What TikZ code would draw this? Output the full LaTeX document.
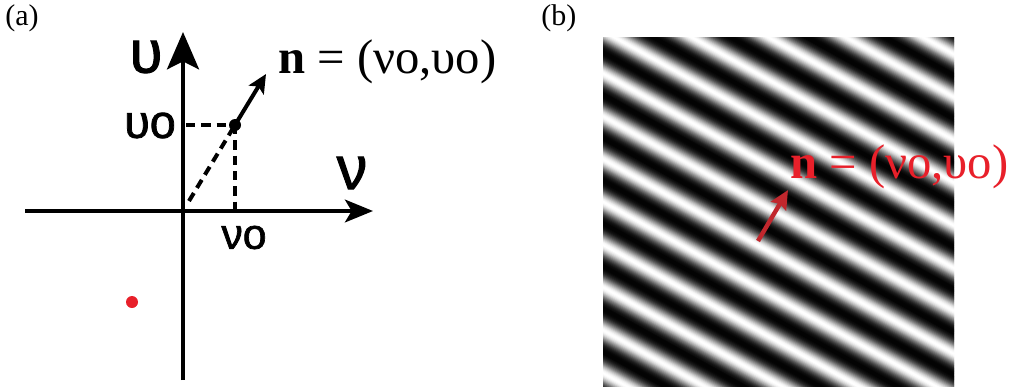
\documentclass[tikz,border=0pt]{standalone}
\usepackage{fontspec}
\setmainfont{Liberation Serif}
\newfontfamily\labfont[FakeBold=1.6]{Liberation Sans}
\usetikzlibrary{arrows.meta}
\definecolor{redtxt}{HTML}{E8202A}
\definecolor{redarrow}{HTML}{C1272D}
\tikzset{
  axisline/.style={line width=3pt},
  dashline/.style={line width=3pt, dash pattern=on 7pt off 4.5pt},
  dotnode/.style={circle, fill=black, inner sep=0pt, minimum size=9pt},
  sanslab/.style={inner sep=0pt, font=\labfont},
  eqtext/.style={inner sep=0pt, anchor=base west, font=\fontsize{36.5}{40}\selectfont},
  paneltag/.style={inner sep=0pt, anchor=base west, font=\fontsize{22.5}{26}\selectfont},
}
\begin{document}
\begin{tikzpicture}[x=0.75pt,y=-0.75pt]
\useasboundingbox (0,0) rectangle (1016,387);

% panel tags
\node[paneltag] (ta) at (5,25) {(a)};
\node[paneltag] (tb) at (541,25) {(b)};

% ---------- panel (a) ----------
\coordinate (xl) at (25,211);
\coordinate (xr) at (373,211);
\coordinate (yb) at (183,380);
\coordinate (yt) at (183,32);
\coordinate (yP) at (186,125);
\coordinate (xP) at (235,211);
\coordinate (dstart) at (189,201);
\coordinate (Ptip) at (266,74);

\draw[axisline, -{Stealth[length=21pt,width=17pt,inset=5pt]}] (xl) -- (xr);
\draw[axisline, -{Stealth[length=28pt,width=24pt,inset=6pt]}] (yb) -- (yt);

\node[dotnode] (P) at (235,125) {};
\draw[dashline] (yP) -- (P.center);
\draw[dashline] (P.center) -- (xP);
\draw[dashline] (dstart) -- (P.center);
\draw[line width=3pt, -{Stealth[length=14pt,width=13pt,inset=3pt]}] (P.center) -- (Ptip);

\node[sanslab, font=\labfont\fontsize{45}{48}\selectfont] (ulab) at (146,57) {υ};
\node[sanslab, font=\labfont\fontsize{46}{48}\selectfont] (vlab) at (352,173) {ν};
\node[sanslab, font=\labfont\fontsize{35}{38}\selectfont] (u0) at (150,125.5) {υo};
\node[sanslab, font=\labfont\fontsize{32}{35}\selectfont] (v0) at (244,237.5) {νo};

\node[eqtext] (eqa) at (278,73) {\textbf{n} = (νo,υo)};

\node[circle, fill=redtxt, inner sep=0pt, minimum size=9pt] (reddot) at (132,302) {};

% ---------- panel (b) ----------
\begin{scope}
  \clip (603,37) rectangle (954,386);
  \begin{scope}[shift={(603,37)}, rotate=-29.0]
    \foreach \s in {-312,-311,...,178}{
      \pgfmathsetmacro\ang{9.626*(\s-5.8)}
      \pgfmathsetmacro\w{(1+cos(\ang))/2}
      \pgfmathsetmacro\ww{0.5*\w+0.5*\w*\w}
      \pgfmathtruncatemacro\g{100-100*\ww}
      \pgfmathsetmacro\yy{-1*\s}
      \draw[black!\g, line width=1.3pt] (-20,\yy) -- (490,\yy);
    }
  \end{scope}
\end{scope}

\coordinate (rtail) at (758,241);
\coordinate (rhead) at (788,190);
\draw[redarrow, line width=3.3pt, -{Stealth[length=14pt,width=13pt,inset=2pt]}] (rtail) -- (rhead);

\node[eqtext, text=redtxt] (eqb) at (790,178) {\textbf{n} = (νo,υo)};
\end{tikzpicture}
\end{document}
